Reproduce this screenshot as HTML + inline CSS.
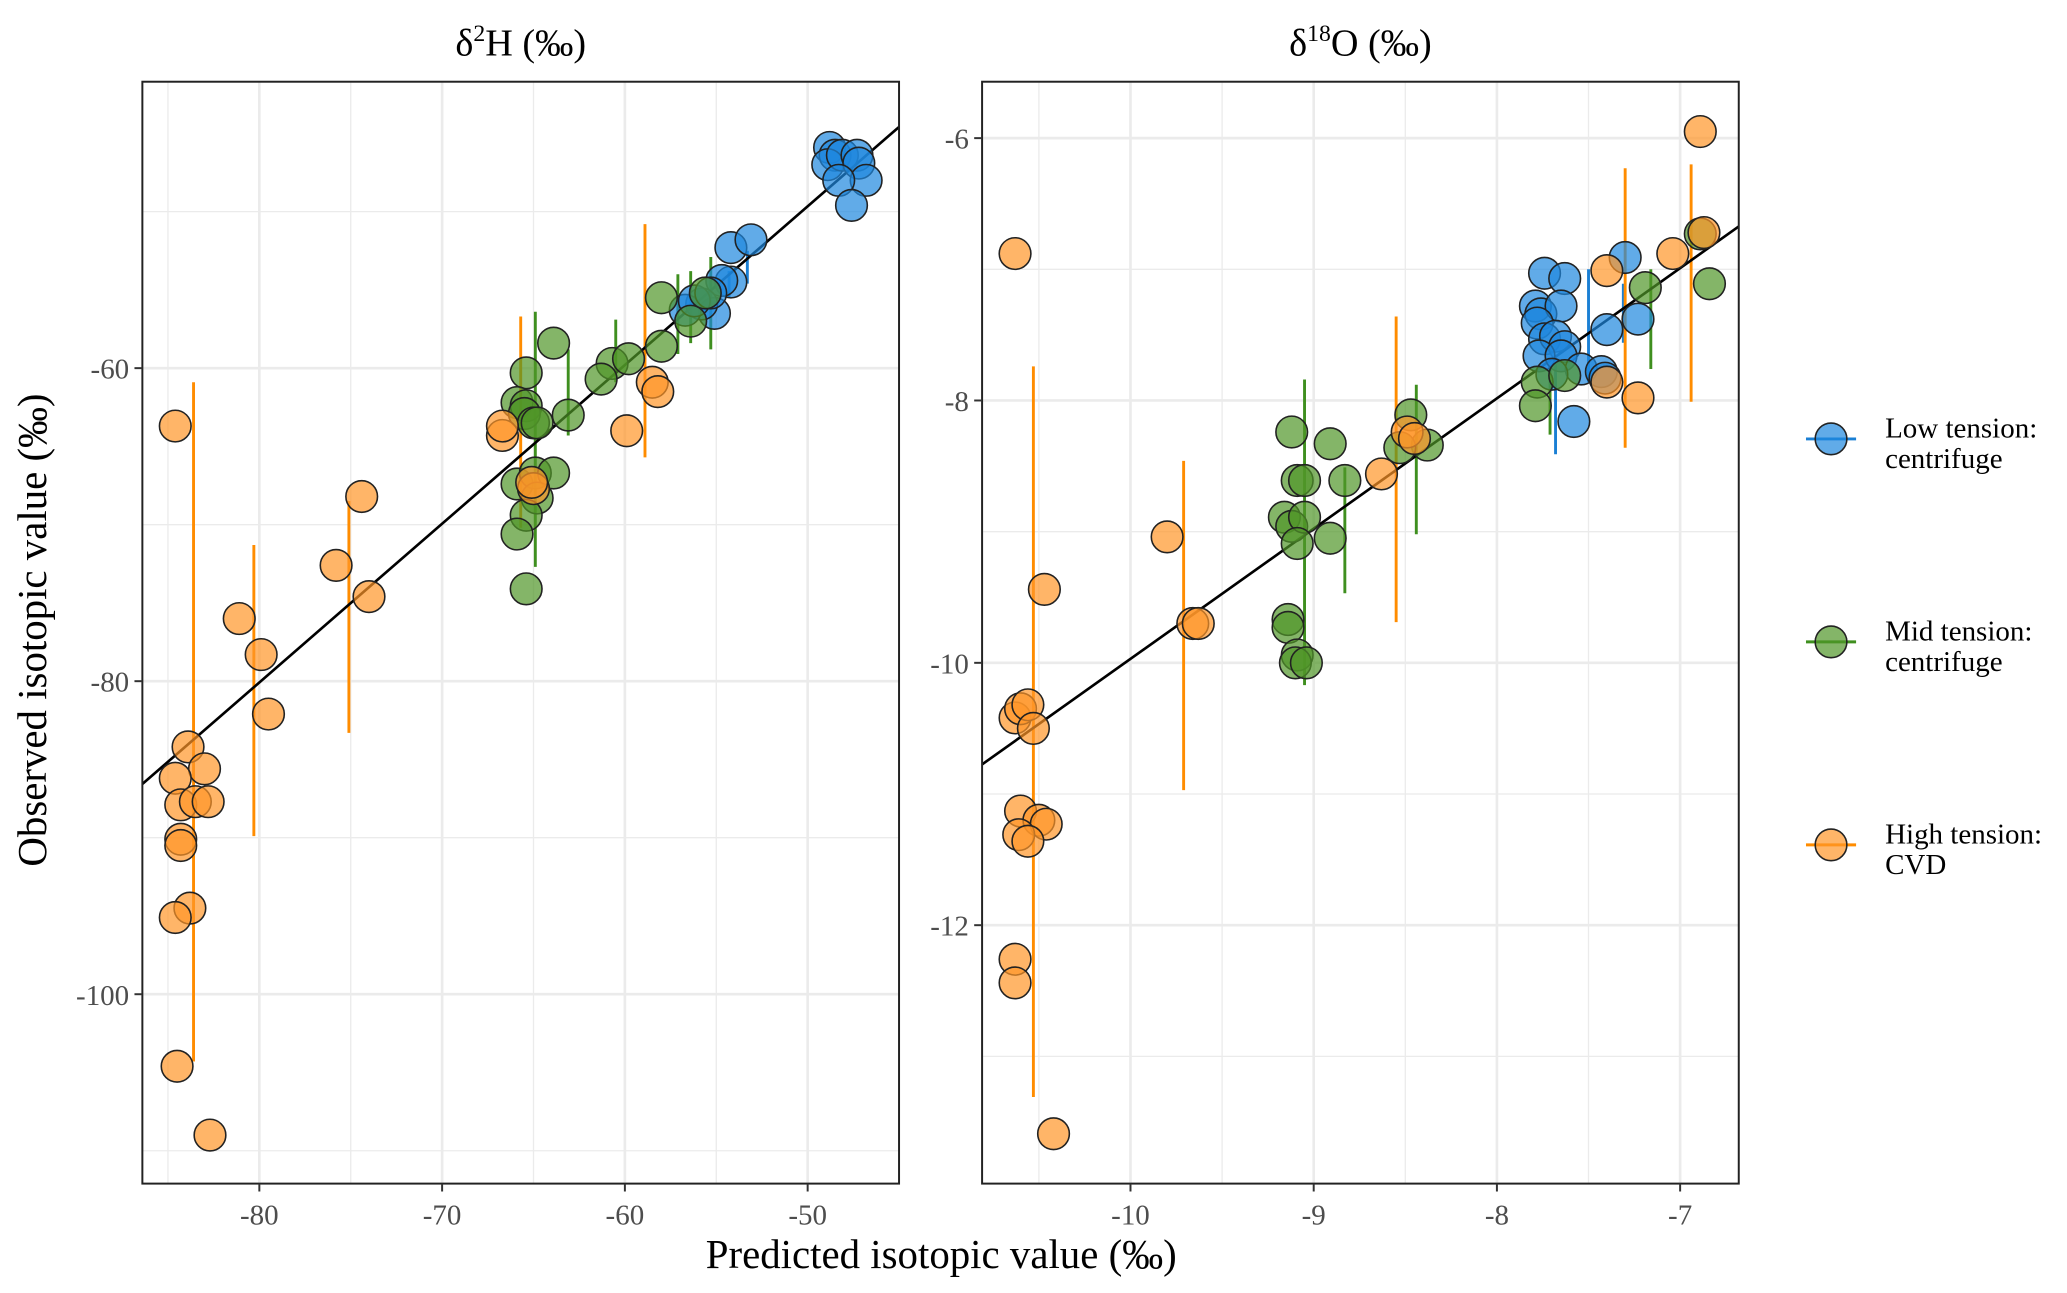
<!DOCTYPE html>
<html><head><meta charset="utf-8"><style>
html,body{margin:0;padding:0;background:#fff;}
svg{display:block;font-family:"Liberation Serif",serif;}
</style></head><body>
<svg id="chart" width="2067" height="1293" viewBox="0 0 1568 981" preserveAspectRatio="none" xmlns="http://www.w3.org/2000/svg">
<rect width="1568" height="981" fill="#fff"/>
<text x="395" y="42" font-size="29" text-anchor="middle">δ<tspan dy="-11" font-size="18">2</tspan><tspan dy="11">H (‰)</tspan></text>
<text x="1032" y="42" font-size="29" text-anchor="middle">δ<tspan dy="-11" font-size="18">18</tspan><tspan dy="11">O (‰)</tspan></text>
<text x="714" y="962" font-size="31" text-anchor="middle">Predicted isotopic value (‰)</text>
<text transform="translate(35,478) rotate(-90)" font-size="31" text-anchor="middle">Observed isotopic value (‰)</text>
<g id="legend"></g>
<g id="p1"></g><g id="p2"></g>
</svg>
<script>
// Left panel (d2H) data
const hLowX=[-48.8,-48.5,-48.9,-48.1,-47.3,-47.2,-46.8,-48.3,-47.6,-54.2,-53.1,-54.2,-54.7,-55.1,-55.8,-56.7,-56.2,-55.3];
const hLowY=[-45.9,-46.4,-47.0,-46.4,-46.4,-46.9,-48.0,-48.0,-49.6,-52.3,-51.8,-54.5,-54.4,-56.5,-55.9,-56.3,-55.7,-55.2];
const hMidX=[-58.0,-56.4,-55.6,-58.0,-63.9,-60.7,-59.8,-61.3,-65.4,-65.9,-65.4,-65.5,-65.0,-63.1,-64.8,-65.9,-64.9,-63.9,-64.8,-65.4,-65.9,-65.4];
const hMidY=[-55.5,-57.0,-55.2,-58.6,-58.4,-59.7,-59.4,-60.7,-60.3,-62.2,-62.4,-62.9,-63.5,-63.0,-63.5,-67.4,-66.7,-66.7,-68.3,-69.4,-70.6,-74.1];
const hHighX=[-84.6,-66.7,-66.7,-65.0,-65.1,-59.9,-58.5,-58.2,-74.4,-75.8,-74.0,-81.1,-79.9,-79.5,-83.9,-83.0,-84.6,-84.3,-83.5,-82.8,-84.3,-84.3,-83.8,-84.6,-84.5,-82.7];
const hHighY=[-63.7,-64.3,-63.7,-67.7,-67.3,-64.0,-60.9,-61.5,-68.2,-72.6,-74.6,-76.0,-78.3,-82.1,-84.2,-85.6,-86.2,-87.9,-87.7,-87.7,-90.1,-90.5,-94.5,-95.1,-104.6,-109.0];
const hLowBarX=[-54.3,-53.3], hLowBarLo=[-55.5,-54.6], hLowBarHi=[-53.8,-52.5];
const hMidBarX=[-64.9,-63.1,-60.5,-56.4,-55.3,-57.1], hMidBarLo=[-72.7,-64.3,-60.9,-58.4,-58.8,-59.1], hMidBarHi=[-56.4,-58.8,-56.9,-53.8,-52.9,-54.0];
const hHighBarX=[-83.6,-80.3,-75.1,-65.7,-58.9], hHighBarLo=[-104.3,-89.9,-83.3,-70.2,-65.7], hHighBarHi=[-60.9,-71.3,-68.5,-56.7,-50.8];
const hFit=[1.04,1.014];
const hXTicks=[-80,-70,-60,-50], hYTicks=[-60,-80,-100];
// Right panel (d18O) data
const oLowX=[-7.74,-7.63,-7.30,-7.79,-7.76,-7.65,-7.78,-7.74,-7.68,-7.63,-7.77,-7.65,-7.54,-7.70,-7.43,-7.58,-7.40,-7.23,-7.41];
const oLowY=[-7.03,-7.07,-6.91,-7.28,-7.34,-7.28,-7.41,-7.53,-7.51,-7.59,-7.66,-7.66,-7.76,-7.80,-7.78,-8.16,-7.46,-7.38,-7.83];
const oMidX=[-6.89,-6.84,-7.19,-7.78,-7.79,-7.63,-8.47,-8.38,-8.53,-8.91,-8.83,-9.12,-9.09,-9.05,-9.16,-9.12,-9.05,-9.09,-8.91,-9.14,-9.14,-9.09,-9.10,-9.04];
const oMidY=[-6.73,-7.11,-7.14,-7.86,-8.04,-7.81,-8.11,-8.34,-8.36,-8.33,-8.61,-8.24,-8.61,-8.61,-8.89,-8.96,-8.89,-9.09,-9.05,-9.67,-9.73,-9.94,-10.0,-10.0];
const oHighX=[-6.89,-6.87,-7.04,-7.40,-7.40,-7.23,-8.49,-8.45,-8.63,-9.80,-9.66,-9.63,-10.63,-10.47,-10.63,-10.60,-10.56,-10.53,-10.60,-10.50,-10.46,-10.61,-10.56,-10.63,-10.63,-10.42];
const oHighY=[-5.95,-6.72,-6.88,-7.01,-7.86,-7.98,-8.24,-8.29,-8.56,-9.04,-9.70,-9.70,-6.88,-9.44,-10.42,-10.35,-10.32,-10.50,-11.13,-11.20,-11.23,-11.31,-11.36,-12.26,-12.44,-13.59];
const oLowBarX=[-7.68,-7.50,-7.31], oLowBarLo=[-8.41,-7.86,-7.56], oLowBarHi=[-7.66,-7.0,-7.11];
const oMidBarX=[-9.05,-8.83,-8.44,-7.16,-7.71], oMidBarLo=[-10.17,-9.47,-9.02,-7.76,-8.26], oMidBarHi=[-7.84,-8.51,-7.88,-7.0,-7.76];
const oHighBarX=[-10.53,-9.71,-8.55,-7.30,-6.94], oHighBarLo=[-13.31,-10.97,-9.69,-8.36,-8.01], oHighBarHi=[-7.74,-8.46,-7.36,-6.23,-6.20];
const oFit=[-0.04,0.993];
const oXTicks=[-10,-9,-8,-7], oYTicks=[-6,-8,-10,-12];

const NS="http://www.w3.org/2000/svg";
const COL={low:{bar:"#1a7fd4",fill:"rgba(30,136,222,0.7)"},mid:{bar:"#3f8f1f",fill:"rgba(80,150,40,0.7)"},high:{bar:"#ff8c00",fill:"rgba(255,150,40,0.7)"}};
function mk(tag,attrs,parent){const e=document.createElementNS(NS,tag);for(const k in attrs)e.setAttribute(k,attrs[k]);parent.appendChild(e);return e;}
function panel(g,box,xd,yd,xt,yt,series,fit,name){
  const sx=v=>box.x0+(v-xd[0])/(xd[1]-xd[0])*(box.x1-box.x0);
  const sy=v=>box.y1-(v-yd[0])/(yd[1]-yd[0])*(box.y1-box.y0);
  const mx=[],my=[];
  for(let i=0;i<xt.length;i++){mx.push(xt[i]);if(i<xt.length-1)mx.push((xt[i]+xt[i+1])/2);}
  mx.push(xt[0]-(xt[1]-xt[0])/2);mx.push(xt[xt.length-1]+(xt[1]-xt[0])/2);
  for(let i=0;i<yt.length;i++){my.push(yt[i]);}
  const dy=yt[1]-yt[0];
  for(let i=-1;i<yt.length;i++){my.push(yt[0]+dy*(i+0.5));}
  mx.forEach(v=>{const p=sx(v);if(p>box.x0&&p<box.x1){const l=mk("line",{x1:p,x2:p,y1:box.y0,y2:box.y1,stroke:"#ebebeb","stroke-width":xt.includes(v)?2:1},g);
    
    }});
  my.forEach(v=>{const p=sy(v);if(p>box.y0&&p<box.y1){const l=mk("line",{x1:box.x0,x2:box.x1,y1:p,y2:p,stroke:"#ebebeb","stroke-width":yt.includes(v)?2:1},g);
    
    }});
  series.forEach(s=>{for(let i=0;i<s.bx.length;i++){const l=mk("line",{x1:sx(s.bx[i]),x2:sx(s.bx[i]),y1:sy(s.lo[i]),y2:sy(s.hi[i]),stroke:COL[s.k].bar,"stroke-width":2.2},g);
    
    }});
  const fl=mk("line",{x1:sx(xd[0]),y1:sy(fit[0]+fit[1]*xd[0]),x2:sx(xd[1]),y2:sy(fit[0]+fit[1]*xd[1]),stroke:"#000","stroke-width":2},g);
  
  
  series.forEach(s=>{for(let i=0;i<s.x.length;i++){const c=mk("circle",{cx:sx(s.x[i]),cy:sy(s.y[i]),r:12,fill:COL[s.k].fill,stroke:"#222","stroke-width":1.2},g);
    
    }});
  const r=mk("rect",{x:box.x0,y:box.y0,width:box.x1-box.x0,height:box.y1-box.y0,fill:"none",stroke:"#222","stroke-width":1.5},g);
  
  
  xt.forEach(v=>{const p=sx(v);mk("line",{x1:p,x2:p,y1:box.y1,y2:box.y1+6,stroke:"#333","stroke-width":1.5},g);
    const t=mk("text",{x:p,y:box.y1+31,"font-size":22,fill:"#4d4d4d","text-anchor":"middle"},g);t.textContent=v;
    
    });
  yt.forEach(v=>{const p=sy(v);mk("line",{x1:box.x0-6,x2:box.x0,y1:p,y2:p,stroke:"#333","stroke-width":1.5},g);
    const t=mk("text",{x:box.x0-10,y:p+8,"font-size":22,fill:"#4d4d4d","text-anchor":"end"},g);t.textContent=v;
    
    });
}
const p1=document.getElementById("p1");


const p2=document.getElementById("p2");


panel(p1,{x0:108,x1:682,y0:62,y1:898},[-86.4,-45.0],[-112.1,-41.7],hXTicks,hYTicks,[
 {k:"low",x:hLowX,y:hLowY,bx:hLowBarX,lo:hLowBarLo,hi:hLowBarHi},
 {k:"mid",x:hMidX,y:hMidY,bx:hMidBarX,lo:hMidBarLo,hi:hMidBarHi},
 {k:"high",x:hHighX,y:hHighY,bx:hHighBarX,lo:hHighBarLo,hi:hHighBarHi}],hFit,"d2h");
panel(p2,{x0:745,x1:1319,y0:62,y1:898},[-10.81,-6.68],[-13.97,-5.57],oXTicks,oYTicks,[
 {k:"low",x:oLowX,y:oLowY,bx:oLowBarX,lo:oLowBarLo,hi:oLowBarHi},
 {k:"mid",x:oMidX,y:oMidY,bx:oMidBarX,lo:oMidBarLo,hi:oMidBarHi},
 {k:"high",x:oHighX,y:oHighY,bx:oHighBarX,lo:oHighBarLo,hi:oHighBarHi}],oFit,"d18o");
const lg=document.getElementById("legend");
[["low","Low tension:","centrifuge",333],["mid","Mid tension:","centrifuge",487],["high","High tension:","CVD",641]].forEach(d=>{
  const g=mk("g",{},lg);
  
  
  mk("line",{x1:1370,x2:1408,y1:d[3],y2:d[3],stroke:COL[d[0]].bar,"stroke-width":2.2},g);
  mk("circle",{cx:1389,cy:d[3],r:12,fill:COL[d[0]].fill,stroke:"#222","stroke-width":1.2},g);
  const t=mk("text",{x:1430,y:d[3]-1,"font-size":22,fill:"#000"},g);t.textContent=d[1];
  const t2=mk("text",{x:1430,y:d[3]+22,"font-size":22,fill:"#000"},g);t2.textContent=d[2];
});
</script>
</body></html>
